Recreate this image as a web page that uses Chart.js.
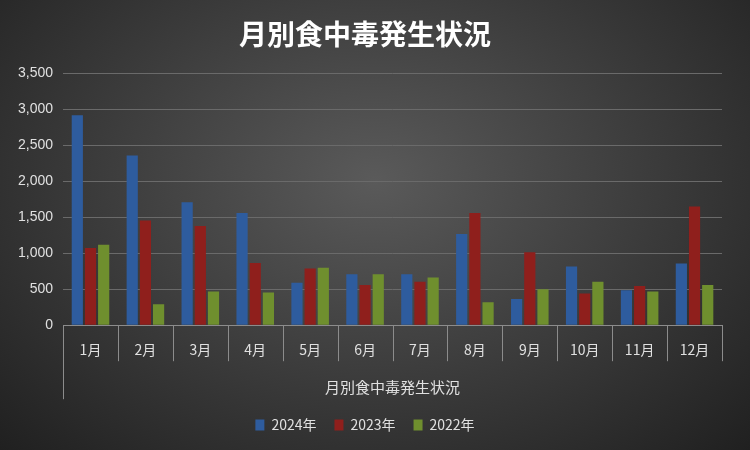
<!DOCTYPE html>
<html>
<head>
<meta charset="utf-8">
<script src="https://cdn.jsdelivr.net/npm/chart.js@4"></script>
<style>
  html, body { margin: 0; padding: 0; }
  body {
    width: 750px; height: 450px; overflow: hidden;
    background: radial-gradient(ellipse at 50% 40%, #5a5a5a 0%, #3a3a3a 55%, #202020 100%);
  }
  #wrap { position: relative; width: 750px; height: 450px; }
</style>
</head>
<body>
<div id="wrap"><canvas id="chart" width="750" height="450"></canvas></div>
<script>
const months = ['1月','2月','3月','4月','5月','6月','7月','8月','9月','10月','11月','12月'];
const y2024 = [2920, 2360, 1710, 1560, 590, 710, 710, 1270, 365, 815, 485, 860];
const y2023 = [1075, 1455, 1380, 865, 790, 560, 605, 1560, 1015, 440, 545, 1650];
const y2022 = [1120, 290, 470, 455, 800, 710, 665, 320, 500, 605, 470, 560];
const yTicks = [0, 500, 1000, 1500, 2000, 2500, 3000, 3500];

function barFill(light, dark) {
    return (ctx) => {
        const area = ctx.chart.chartArea;
        const el = ctx.element;
        if (!area || !el || !el.width) return dark;
        const g = ctx.chart.ctx.createLinearGradient(el.x - el.width / 2, 0, el.x + el.width / 2, 0);
        g.addColorStop(0, dark);
        g.addColorStop(0.45, light);
        g.addColorStop(1, dark);
        return g;
    };
}

// long separators between the categories, below the plot
const separators = {
    id: 'separators',
    afterDraw(chart) {
        const x = chart.scales.x;
        const ctx = chart.ctx;
        const top = chart.chartArea.bottom;
        ctx.save();
        ctx.strokeStyle = '#8c8c8c';
        ctx.lineWidth = 1;
        ctx.beginPath();
        for (let i = 0; i <= months.length; i++) {
            const px = Math.round(x.getPixelForValue(i - 0.5)) + 0.5;
            const len = (i === 0) ? 74 : 36;
            ctx.moveTo(px, top);
            ctx.lineTo(px, top + len);
        }
        ctx.stroke();
        ctx.restore();
    }
};

new Chart(document.getElementById('chart'), {
    type: 'bar',
    data: {
        labels: months,
        datasets: [
            { label: '2024年', data: y2024, backgroundColor: barFill('#6fa3e8', '#2e5c9e'), borderColor: '#6fa3e8', borderWidth: 0 },
            { label: '2023年', data: y2023, backgroundColor: barFill('#e05a55', '#8f1f1c'), borderColor: '#e05a55', borderWidth: 0 },
            { label: '2022年', data: y2022, backgroundColor: barFill('#c2e07a', '#6f8f2e'), borderColor: '#c2e07a', borderWidth: 0 }
        ]
    },
    options: {
        responsive: false,
        animation: false,
        devicePixelRatio: 1,
        layout: { padding: { left: 8, right: 28, top: 4, bottom: 8 } },
        datasets: { bar: { categoryPercentage: 0.72, barPercentage: 0.85 } },
        plugins: {
            title: {
                display: true,
                text: '月別食中毒発生状況',
                color: '#ffffff',
                font: { family: 'Noto Sans CJK JP', size: 28, weight: 'bold' },
                padding: { top: 14, bottom: 22 }
            },
            legend: {
                position: 'bottom',
                labels: {
                    color: '#e0e0e0',
                    font: { family: 'Noto Sans CJK JP', size: 14 },
                    boxWidth: 9, boxHeight: 11,
                    padding: 18
                }
            },
            tooltip: { enabled: false }
        },
        scales: {
            x: {
                grid: { display: false },
                border: { color: '#8c8c8c' },
                ticks: { color: '#e0e0e0', font: { family: 'Noto Sans CJK JP', size: 14 }, padding: 8, autoSkip: false, maxRotation: 0 },
                title: {
                    display: true, text: '月別食中毒発生状況', color: '#e0e0e0',
                    font: { family: 'Noto Sans CJK JP', size: 15 }, padding: { top: 12, bottom: 4 }
                }
            },
            y: {
                min: 0, max: 3500,
                afterBuildTicks: (s) => { s.ticks = yTicks.map(v => ({ value: v })); },
                grid: { color: '#6a6a6a', drawTicks: false },
                border: { display: false },
                ticks: {
                    color: '#e0e0e0', padding: 10,
                    font: { family: 'Liberation Sans', size: 14 },
                    callback: (v) => v.toLocaleString('en-US')
                }
            }
        }
    },
    plugins: [separators]
});
</script>
</body>
</html>
